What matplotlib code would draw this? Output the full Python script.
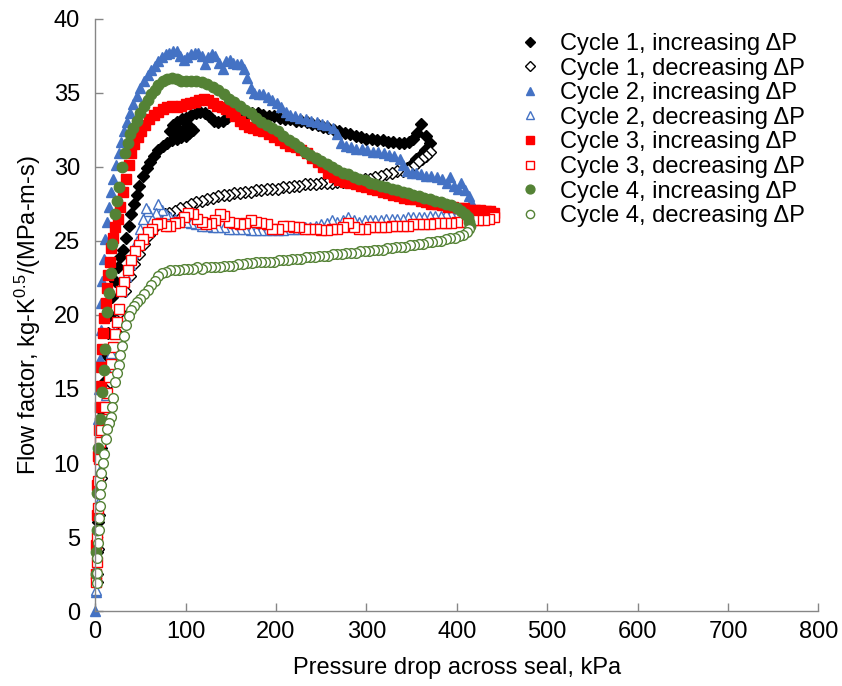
import numpy as np
import matplotlib
matplotlib.use("Agg")
import matplotlib.pyplot as plt

plt.rcParams['font.family'] = ['Liberation Sans', 'DejaVu Sans']
plt.rcParams['mathtext.fontset'] = 'custom'
plt.rcParams['mathtext.rm'] = 'Liberation Sans'
plt.rcParams['mathtext.it'] = 'Liberation Sans:italic'

# --- data: (pressure drop kPa, flow factor) ---
c1_inc = np.array([
    (1.5, 2.5), (2.5, 4), (3.5, 6), (5, 8.5), (6.5, 11), (8, 13.5), (10, 15.5), (12, 17.3), (14, 18.8), (16, 20),
    (19, 21.2), (22, 22.3), (25, 23.2), (28, 23.9), (31, 24.4), (34, 25.2), (37, 26), (40, 26.8), (43, 27.5), (46, 28.1),
    (49, 28.7), (53, 29.4), (57, 29.9), (61, 30.3), (65, 30.7), (70, 31.1), (75, 31.4), (80, 31.6), (85, 31.8), (90, 31.9),
    (95, 32.0), (100, 32.1), (104, 32.3), (108, 32.5), (105, 32.7), (100, 32.6), (94, 32.4), (88, 32.3), (83, 32.4), (86, 32.8),
    (91, 33.0), (96, 33.2), (101, 33.3), (106, 33.5), (111, 33.6), (116, 33.7), (121, 33.6), (126, 33.4), (131, 33.1), (136, 33.0),
    (141, 33.1), (146, 33.3), (151, 33.5), (156, 33.6), (162, 33.6), (168, 33.5), (174, 33.6), (180, 33.6), (186, 33.5), (192, 33.4),
    (198, 33.4), (204, 33.3), (210, 33.2), (216, 33.2), (222, 33.1), (228, 33.1), (234, 33.0), (240, 32.9), (246, 32.8), (252, 32.7),
    (258, 32.6), (264, 32.5), (270, 32.4), (276, 32.3), (282, 32.2), (288, 32.1), (294, 32.0), (300, 31.9), (306, 31.9), (312, 31.8),
    (318, 31.8), (324, 31.7), (330, 31.7), (336, 31.6), (342, 31.6), (347, 31.7), (352, 31.9), (356, 32.3), (360, 32.9), (366, 32.1),
    (370, 31.6), (365, 31.1), (360, 30.8), (355, 30.5), (350, 30.2), (345, 29.9),
])
c1_dec = np.array([
    (370, 31.0), (366, 30.7), (362, 30.5), (357, 30.3), (352, 30.0), (346, 29.8), (340, 29.7), (334, 29.7), (328, 29.6), (322, 29.5),
    (316, 29.4), (310, 29.3), (304, 29.2), (298, 29.2), (292, 29.1), (286, 29.1), (280, 29.0), (274, 29.0), (268, 29.0), (262, 28.9),
    (256, 28.9), (250, 28.9), (244, 28.8), (238, 28.8), (232, 28.8), (226, 28.7), (220, 28.7), (214, 28.6), (208, 28.6), (202, 28.5),
    (196, 28.5), (190, 28.5), (184, 28.4), (178, 28.4), (172, 28.3), (166, 28.3), (160, 28.2), (154, 28.2), (148, 28.1), (142, 28.1),
    (136, 28.0), (130, 27.9), (124, 27.8), (118, 27.7), (112, 27.6), (106, 27.5), (100, 27.3), (94, 27.2), (88, 27.0), (82, 26.9),
    (77, 26.8), (72, 26.4), (66, 25.9), (60, 25.4), (54, 24.8), (48, 24.1), (43, 23.4), (38, 22.6), (33, 21.6), (28, 20.2),
    (24, 18.8), (20, 17.2), (16, 15.5), (12, 13.6), (9, 11.5), (6.5, 9), (4.5, 6.5), (3, 4.2), (2, 2.0),
])
c2_inc = np.array([
    (0, 0), (0.5, 1.3), (1, 3), (1.5, 5), (2, 7), (2.5, 9), (3, 11), (3.5, 13), (4, 15), (5, 17),
    (6, 19), (7, 20.8), (8, 22.3), (9.5, 23.8), (11, 25.1), (13, 26.3), (15, 27.3), (17.5, 28.3), (20, 29.2), (23, 30.1),
    (26, 30.9), (29, 31.7), (32, 32.4), (35, 33.0), (38, 33.6), (42, 34.2), (46, 34.8), (50, 35.3), (54, 35.8), (58, 36.2),
    (62, 36.5), (66, 36.8), (70, 37.1), (74, 37.4), (78, 37.6), (82, 37.7), (86, 37.8), (90, 37.8), (94, 37.5), (98, 37.2),
    (102, 37.4), (106, 37.6), (110, 37.7), (114, 37.7), (118, 37.5), (121, 36.9), (125, 37.4), (129, 37.6), (133, 37.5), (137, 37.0),
    (141, 36.6), (145, 37.1), (149, 37.2), (153, 37.0), (157, 36.9), (161, 36.9), (165, 36.6), (168, 36.0), (172, 35.3), (176, 35.0),
    (181, 34.9), (186, 34.9), (191, 34.7), (196, 34.5), (201, 34.3), (206, 34.0), (211, 33.7), (216, 33.5), (221, 33.4), (227, 33.3),
    (233, 33.2), (239, 33.1), (245, 33.0), (251, 32.9), (257, 32.8), (263, 32.6), (268, 32.2), (272, 31.6), (277, 31.4), (283, 31.3),
    (289, 31.2), (295, 31.2), (301, 31.1), (307, 31.0), (313, 31.0), (319, 30.9), (325, 30.8), (331, 30.7), (337, 30.5), (341, 30.1),
    (345, 29.7), (350, 29.6), (355, 29.6), (360, 29.5), (366, 29.4), (372, 29.4), (378, 29.3), (384, 29.2), (389, 28.9), (393, 29.3),
    (397, 28.7), (401, 28.5), (405, 28.9), (409, 28.4), (413, 28.0), (416, 27.6), (418, 27.3),
])
c2_dec = np.array([
    (418, 27.0), (412, 26.9), (406, 26.9), (400, 26.8), (394, 26.8), (388, 26.8), (382, 26.7), (376, 26.7), (370, 26.7), (364, 26.6),
    (358, 26.6), (352, 26.6), (346, 26.6), (340, 26.5), (334, 26.5), (328, 26.5), (322, 26.5), (316, 26.4), (310, 26.4), (304, 26.4),
    (298, 26.4), (292, 26.3), (286, 26.4), (280, 26.6), (274, 26.4), (268, 26.3), (262, 26.4), (256, 26.2), (250, 26.1), (244, 26.0),
    (238, 25.9), (232, 25.9), (226, 25.8), (220, 25.8), (214, 25.8), (208, 25.7), (202, 25.7), (196, 25.7), (190, 25.7), (184, 25.7),
    (178, 25.7), (172, 25.7), (166, 25.8), (160, 25.8), (154, 25.8), (148, 25.8), (142, 25.9), (136, 25.9), (130, 25.9), (124, 26.0),
    (118, 26.0), (112, 26.1), (106, 26.2), (100, 26.3), (94, 26.4), (88, 26.5), (83, 26.6), (78, 26.8), (74, 27.1), (70, 27.5),
    (67, 26.9), (63, 26.5), (59, 27.0), (56, 27.2), (53, 26.5), (50, 25.8), (46, 25.0), (42, 24.2), (38, 23.4), (34, 22.6),
    (30, 21.6), (26, 20.4), (22, 19.0), (18, 17.4), (15, 16.0), (12, 14.6), (9, 13.0), (7, 11.5), (5, 9.5), (3.5, 7.3),
    (2.5, 5), (1.5, 2.8), (1, 1.4),
])
c3_inc = np.array([
    (0.5, 2.5), (1, 4.5), (1.5, 6.5), (2, 8.5), (3, 10.5), (4, 12.2), (5, 13.8), (6, 15.2), (7, 16.5), (8, 17.7),
    (9, 18.8), (10, 19.8), (11.5, 20.8), (13, 21.8), (14.5, 22.7), (16, 23.6), (18, 24.5), (20, 25.2), (22.5, 25.9), (25, 26.5),
    (28, 27.3), (31, 28.3), (34, 29.2), (37, 30.1), (40, 30.9), (43, 31.5), (47, 32.0), (51, 32.4), (55, 32.8), (60, 33.2),
    (65, 33.5), (70, 33.7), (75, 33.9), (80, 34.0), (85, 34.1), (90, 34.0), (95, 34.1), (100, 34.2), (105, 34.3), (110, 34.4),
    (115, 34.5), (120, 34.6), (125, 34.5), (130, 34.3), (135, 34.1), (140, 34.0), (145, 33.9), (150, 33.7), (155, 33.4), (160, 33.1),
    (165, 32.9), (170, 32.7), (175, 32.6), (180, 32.5), (186, 32.4), (192, 32.2), (198, 32.0), (204, 31.8), (210, 31.6), (216, 31.4),
    (222, 31.3), (228, 31.1), (234, 30.9), (240, 30.6), (246, 30.3), (252, 30.0), (258, 29.6), (264, 29.3), (270, 29.1), (276, 29.0),
    (282, 28.9), (288, 28.8), (294, 28.7), (300, 28.6), (306, 28.5), (312, 28.4), (318, 28.3), (324, 28.2), (330, 28.1), (336, 28.0),
    (342, 27.9), (348, 27.8), (354, 27.8), (360, 27.7), (366, 27.6), (372, 27.5), (378, 27.5), (384, 27.4), (390, 27.3), (396, 27.3),
    (402, 27.2), (408, 27.2), (414, 27.1), (420, 27.1), (426, 27.1), (432, 27.0), (437, 27.0), (441, 26.9),
])
c3_dec = np.array([
    (441, 26.6), (436, 26.5), (430, 26.4), (424, 26.4), (418, 26.4), (412, 26.3), (406, 26.3), (400, 26.3), (394, 26.2), (388, 26.2),
    (382, 26.2), (376, 26.2), (370, 26.1), (364, 26.1), (358, 26.1), (352, 26.1), (346, 26.0), (340, 26.0), (334, 26.0), (328, 26.0),
    (322, 25.9), (316, 25.9), (310, 25.9), (304, 25.9), (298, 25.8), (292, 25.8), (286, 25.9), (280, 26.2), (274, 25.9), (268, 25.8),
    (262, 25.8), (256, 25.7), (250, 25.7), (244, 25.8), (238, 25.8), (232, 25.8), (226, 25.9), (220, 25.9), (214, 26.0), (208, 26.0),
    (202, 25.8), (196, 25.8), (190, 26.1), (184, 26.2), (178, 26.3), (172, 26.4), (166, 26.2), (160, 26.1), (154, 26.2), (148, 26.3),
    (143, 26.7), (138, 26.8), (133, 26.4), (128, 26.2), (123, 26.1), (118, 26.3), (113, 26.5), (108, 26.8), (103, 26.9), (98, 26.6),
    (93, 26.3), (88, 26.2), (83, 26.0), (78, 26.0), (73, 26.2), (68, 26.1), (63, 25.8), (58, 25.6), (53, 25.1), (48, 24.7),
    (44, 24.3), (40, 23.7), (36, 23.0), (32, 22.2), (29, 21.6), (26.5, 20.4), (24, 19.5), (22, 18.7), (19.5, 17.8), (17, 16.7),
    (15.5, 15.8), (13, 14.7), (11, 13.8), (9, 13.0), (7, 12.2), (5.5, 11.4), (4.5, 10.3), (3.5, 8.8), (2.8, 7.0), (2.2, 5.0),
    (1.7, 3.3), (1.2, 2.0),
])
c4_inc = np.array([
    (0.5, 2.5), (1, 4), (1.5, 5.5), (2.5, 8), (3.5, 11), (5.5, 13), (7.7, 14.8), (9.5, 16.3), (11, 17.7), (13, 20.2),
    (15, 21.5), (17, 22.8), (19, 24.8), (22, 26.8), (24.5, 27.7), (26.6, 28.6), (30, 30), (33, 30.9), (36, 31.6), (39, 32.2),
    (42, 32.6), (46, 33.1), (50, 33.6), (54, 34.1), (58, 34.5), (62, 34.9), (66, 35.2), (70, 35.5), (75, 35.8), (80, 35.9),
    (85, 36.0), (90, 35.9), (95, 35.8), (100, 35.8), (106, 35.8), (112, 35.8), (118, 35.7), (124, 35.6), (130, 35.4), (136, 35.2),
    (142, 34.9), (148, 34.6), (154, 34.4), (160, 34.1), (166, 33.8), (172, 33.6), (178, 33.3), (184, 33.0), (190, 32.8), (196, 32.6),
    (202, 32.4), (208, 32.1), (214, 31.8), (220, 31.6), (226, 31.3), (232, 31.0), (238, 30.8), (244, 30.6), (250, 30.4), (256, 30.2),
    (262, 30.0), (268, 29.8), (274, 29.6), (280, 29.5), (286, 29.3), (292, 29.2), (298, 29.1), (304, 28.9), (310, 28.8), (316, 28.7),
    (322, 28.6), (328, 28.5), (334, 28.4), (340, 28.3), (346, 28.2), (352, 28.1), (358, 28.0), (364, 27.9), (370, 27.8), (376, 27.7),
    (382, 27.6), (388, 27.5), (394, 27.4), (400, 27.2), (405, 27.0), (409, 26.8), (412, 26.6), (414, 26.3), (415, 26.0),
])
c4_dec = np.array([
    (414, 25.8), (411, 25.6), (407, 25.4), (403, 25.3), (398, 25.2), (393, 25.2), (388, 25.1), (383, 25.0), (378, 25.0), (373, 24.9),
    (368, 24.9), (363, 24.8), (358, 24.8), (353, 24.7), (348, 24.7), (343, 24.6), (338, 24.6), (333, 24.6), (328, 24.5), (323, 24.5),
    (318, 24.4), (313, 24.4), (308, 24.4), (303, 24.3), (298, 24.3), (293, 24.3), (288, 24.2), (283, 24.2), (278, 24.2), (273, 24.1),
    (268, 24.1), (263, 24.1), (258, 24.0), (253, 24.0), (248, 24.0), (243, 23.9), (238, 23.9), (233, 23.9), (228, 23.8), (223, 23.8),
    (218, 23.8), (213, 23.7), (208, 23.7), (203, 23.7), (198, 23.6), (193, 23.6), (188, 23.6), (183, 23.6), (178, 23.6), (173, 23.5),
    (168, 23.5), (163, 23.4), (158, 23.4), (153, 23.3), (148, 23.3), (143, 23.3), (138, 23.2), (133, 23.2), (128, 23.2), (123, 23.2),
    (118, 23.1), (113, 23.2), (108, 23.1), (103, 23.1), (98, 23.1), (93, 23.0), (88, 23.0), (83, 23.0), (78, 22.9), (74, 22.8),
    (70, 22.6), (66, 22.3), (62, 22.0), (58, 21.7), (54, 21.4), (50, 21.1), (46, 20.9), (43, 20.6), (40, 20.3), (37, 19.9),
    (34, 19.3), (32, 18.6), (30, 17.9), (28, 17.3), (26, 16.6), (24, 16.1), (22, 15.5), (20, 14.4), (18.5, 13.8), (17, 13.1),
    (15, 12.7), (13, 12.3), (11.5, 11.6), (10, 10.6), (8.5, 10.0), (7, 9.3), (6, 8.5), (5.5, 7.9), (5, 7.1), (4.4, 6.3),
    (3.8, 5.5), (3, 4.6), (2.6, 3.6), (2.4, 2.6), (2.2, 1.9),
])

labels = ["Cycle 1, increasing \u0394P", "Cycle 1, decreasing \u0394P",
          "Cycle 2, increasing \u0394P", "Cycle 2, decreasing \u0394P",
          "Cycle 3, increasing \u0394P", "Cycle 3, decreasing \u0394P",
          "Cycle 4, increasing \u0394P", "Cycle 4, decreasing \u0394P"]

black = 'black'
blue = '#4472C4'
red = '#FF0000'
green = '#548235'

# series: data, marker, colour, filled?, marker size
series = [
    (c1_inc, 'D', black, True, 6.5),
    (c1_dec, 'D', black, False, 6.5),
    (c2_inc, '^', blue, True, 7.5),
    (c2_dec, '^', blue, False, 7.5),
    (c3_inc, 's', red, True, 7),
    (c3_dec, 's', red, False, 7),
    (c4_inc, 'o', green, True, 7.5),
    (c4_dec, 'o', green, False, 7),
]

fig = plt.figure(figsize=(8.42, 6.86), dpi=100)
ax = fig.add_axes([0.113, 0.109, 0.859, 0.864])

for (d, mk, col, filled, ms), lab in zip(series, labels):
    ax.plot(d[:, 0], d[:, 1], linestyle='none', marker=mk, markersize=ms,
            markerfacecolor=col if filled else 'white', markeredgecolor=col,
            markeredgewidth=1.0, label=lab, clip_on=False)

ax.set_xlim(0, 800)
ax.set_ylim(0, 40)
ax.set_xticks(np.arange(0, 801, 100))
ax.set_yticks(np.arange(0, 41, 5))

for s in ['top', 'right']:
    ax.spines[s].set_visible(False)
for s in ['left', 'bottom']:
    ax.spines[s].set_color('#868686')
    ax.spines[s].set_linewidth(1.0)
ax.tick_params(direction='in', length=6, width=1, color='#868686',
               labelsize=17, labelcolor='black')
ax.tick_params(axis='y', pad=11)
ax.tick_params(axis='x', pad=7)

ax.set_xlabel("Pressure drop across seal, kPa", fontsize=17, labelpad=10)
ax.set_ylabel(r"Flow factor, kg-K$^{0.5}$/(MPa-m-s)", fontsize=17, labelpad=8)

# legend markers drawn a little smaller than in the plot
leg = ax.legend(loc='upper left', bbox_to_anchor=(0.615, 0.952), bbox_transform=fig.transFigure,
                frameon=False, fontsize=17, handlelength=1.0, handletextpad=0.8,
                labelspacing=0.11, borderpad=0, borderaxespad=0, numpoints=1, markerscale=0.85)

fig.savefig("out.png", dpi=100)
